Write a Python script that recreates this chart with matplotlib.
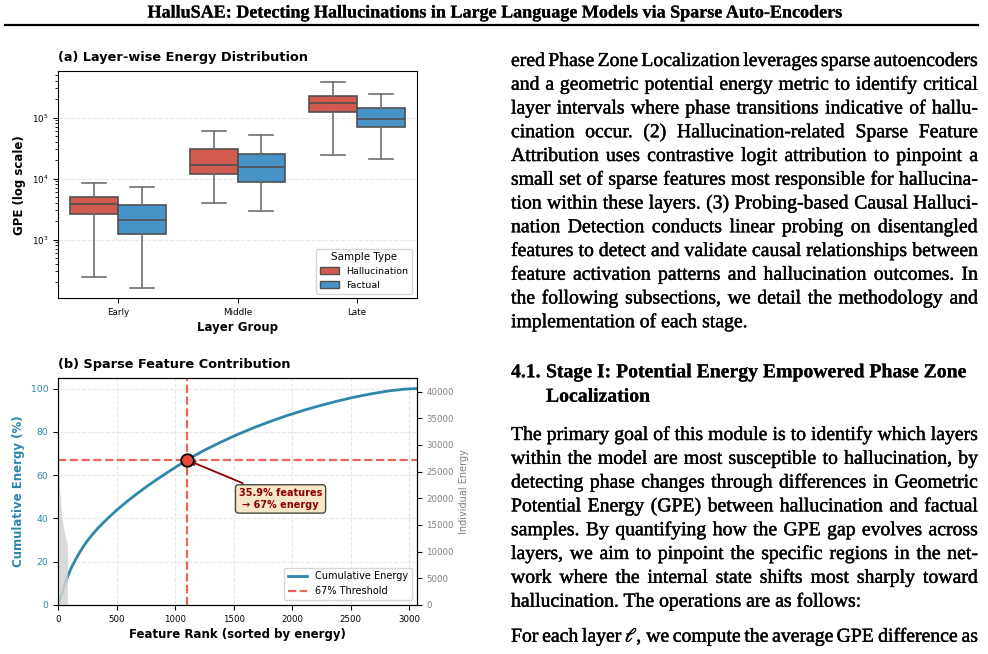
import matplotlib
matplotlib.use('Agg')
import matplotlib.pyplot as plt
import matplotlib.patheffects as pe
from matplotlib.patches import Patch
from matplotlib.lines import Line2D

# ---------------- data ----------------
# (a) box statistics
groups = ['Early', 'Middle', 'Late']
sample_types = ['Hallucination', 'Factual']
hall_whislo = [242, 3990, 24400]
hall_q1 = [2640, 11900, 122000]
hall_med = [3790, 17000, 176000]
hall_q3 = [4940, 31000, 229000]
hall_whishi = [8590, 61200, 389000]
fact_whislo = [163, 2910, 20800]
fact_q1 = [1220, 8710, 69500]
fact_med = [2100, 15500, 96300]
fact_q3 = [3700, 25700, 142000]
fact_whishi = [7400, 52000, 247000]

# (b) cumulative energy curve
rank_pts = [0, 20, 40, 60, 80, 114, 150, 185, 220, 256, 300, 341, 385, 426,
            480, 540, 610, 682, 750, 824, 895, 966, 1030, 1100, 1175, 1250,
            1320, 1392, 1460, 1534, 1676, 1818, 1960, 2102, 2244, 2386, 2528,
            2670, 2813, 2955, 3064]
cum_pts = [0.3, 3.6, 6.9, 10.1, 13.2, 17.5, 21.2, 24.5, 27.5, 30.2, 33.1,
           35.6, 38.0, 40.2, 42.9, 45.7, 48.8, 51.8, 54.5, 57.3, 59.9, 62.4,
           64.6, 67.0, 69.3, 71.5, 73.4, 75.3, 77.0, 78.8, 82.0, 84.9, 87.6,
           90.0, 92.2, 94.2, 96.0, 97.5, 98.8, 99.7, 100.0]
top_rank = [0, 2, 5, 12, 23, 35, 49, 63, 77]
top_energy = [32000, 28000, 25000, 22000, 18400, 15900, 14000, 12400, 11500]
n_features = 3064
thr_rank = 1100
thr_pct = 67

header = "HalluSAE: Detecting Hallucinations in Large Language Models via Sparse Auto-Encoders"
para1 = [
    "ered Phase Zone Localization leverages sparse autoencoders",
    "and a geometric potential energy metric to identify critical",
    "layer intervals where phase transitions indicative of hallu-",
    "cination occur.  (2) Hallucination-related Sparse Feature",
    "Attribution uses contrastive logit attribution to pinpoint a",
    "small set of sparse features most responsible for hallucina-",
    "tion within these layers. (3) Probing-based Causal Halluci-",
    "nation Detection conducts linear probing on disentangled",
    "features to detect and validate causal relationships between",
    "feature activation patterns and hallucination outcomes. In",
    "the following subsections, we detail the methodology and",
    "implementation of each stage.",
]
heading_num = "4.1."
heading = ["Stage I: Potential Energy Empowered Phase Zone", "Localization"]
para2 = [
    "The primary goal of this module is to identify which layers",
    "within the model are most susceptible to hallucination, by",
    "detecting phase changes through differences in Geometric",
    "Potential Energy (GPE) between hallucination and factual",
    "samples. By quantifying how the GPE gap evolves across",
    "layers, we aim to pinpoint the specific regions in the net-",
    "work where the internal state shifts most sharply toward",
    "hallucination. The operations are as follows:",
]
para3 = ["For each layer $\\ell$, we compute the average GPE difference as"]

# ---------------- figure ----------------
W, H = 988, 654
plt.rcParams['mathtext.fontset'] = 'stix'
fig = plt.figure(figsize=(W / 100, H / 100), dpi=100)

RED = '#d25a4e'
BLUE = '#4894c8'
EDGE = '#505050'

# (a) boxplot
ax1 = fig.add_axes([58.3 / W, 1 - 298.3 / H, 358.4 / W, 227.3 / H])
for lo, q1, md, q3, hi, col, off in [
        (hall_whislo, hall_q1, hall_med, hall_q3, hall_whishi, RED, -0.2),
        (fact_whislo, fact_q1, fact_med, fact_q3, fact_whishi, BLUE, 0.2)]:
    stats = [dict(whislo=lo[i], q1=q1[i], med=md[i], q3=q3[i], whishi=hi[i],
                  fliers=[]) for i in range(len(groups))]
    ax1.bxp(stats, positions=[i + off for i in range(len(groups))], widths=0.4,
            patch_artist=True, showfliers=False,
            boxprops=dict(facecolor=col, edgecolor=EDGE, linewidth=1.2),
            medianprops=dict(color=EDGE, linewidth=1.2),
            whiskerprops=dict(color='#707070', linewidth=1.2),
            capprops=dict(color='#707070', linewidth=1.2))
ax1.set_yscale('log')
ax1.set_ylim(109, 5.8e5)
ax1.set_xlim(-0.5, 2.5)
ax1.set_xticks(range(len(groups)))
ax1.set_xticklabels(groups, fontsize=6.3)
ax1.tick_params(axis='y', labelsize=6.3)
ax1.grid(axis='y', linestyle='--', alpha=0.3)
ax1.set_axisbelow(True)
ax1.set_xlabel('Layer Group', fontsize=8.5, fontweight='bold', labelpad=3)
ax1.set_ylabel('GPE (log scale)', fontsize=8.5, fontweight='bold')
ax1.set_title('(a) Layer-wise Energy Distribution', loc='left', fontsize=9.25,
              fontweight='bold', pad=7)
ax1.legend(handles=[Patch(facecolor=RED, edgecolor=EDGE, label=sample_types[0]),
                    Patch(facecolor=BLUE, edgecolor=EDGE, label=sample_types[1])],
           title='Sample Type', loc='lower right', fontsize=6.8, title_fontsize=7.5)

# (b) cumulative energy
CUM = '#2e86ab'
TH = '#e74c3c'
ax2 = fig.add_axes([58.3 / W, 1 - 605 / H, 358.4 / W, 227.3 / H])
ax2.plot(rank_pts, cum_pts, color=CUM, lw=2, label='Cumulative Energy')
ax2.axhline(thr_pct, color=TH, ls='--', lw=1.6, alpha=0.85, label='67% Threshold')
ax2.axvline(thr_rank, color=TH, ls='--', lw=1.6, alpha=0.85)
ax2.plot(thr_rank, thr_pct, 'o', color=TH, markersize=9, markeredgecolor='black',
         markeredgewidth=1.3, zorder=6)
ax2.annotate('%.1f%% features\n\u2192 %d%% energy' % (thr_rank / n_features * 100, thr_pct),
             xy=(thr_rank, thr_pct), xytext=(1900, 49), ha='center', va='center',
             fontsize=7, fontweight='bold', color='darkred',
             bbox=dict(boxstyle='round,pad=0.35', facecolor='wheat', alpha=0.7,
                       edgecolor='black'),
             arrowprops=dict(arrowstyle='->', color='darkred', lw=1.3))
ax2.set_xlim(0, n_features)
ax2.set_ylim(0, 105)
ax2.grid(True, linestyle='--', alpha=0.3)
ax2.tick_params(axis='y', labelcolor=CUM, labelsize=6.7)
ax2.tick_params(axis='x', labelsize=6.2)
ax2.set_xlabel('Feature Rank (sorted by energy)', fontsize=8.5, fontweight='bold', labelpad=3)
ax2.set_ylabel('Cumulative Energy (%)', fontsize=8.5, fontweight='bold', color=CUM)
ax2.set_title('(b) Sparse Feature Contribution', loc='left', fontsize=9.25,
              fontweight='bold', pad=7)
ax2.legend(loc='lower right', fontsize=7)

ax3 = ax2.twinx()
ax3.fill_between(top_rank, top_energy, color='lightgray', alpha=0.85, lw=0)
ax3.set_ylim(0, 42600)
ax3.set_yticks(range(0, 40001, 5000))
ax3.tick_params(axis='y', labelcolor='gray', labelsize=6.2)
ax3.set_ylabel('Individual Energy', fontsize=7, color='gray')

# ---------------- page text ----------------
serif = 'Liberation Serif'
ink = {'normal': [pe.withStroke(linewidth=0.3, foreground='black')],
       'bold': [pe.withStroke(linewidth=0.12, foreground='black')]}
fig.text(0.5, 1 - 13 / H, header, ha='center', va='center', family=serif,
         fontweight='bold', fontsize=13, path_effects=ink['bold'])
fig.add_artist(Line2D([5 / W, 978 / W], [1 - 25 / H] * 2, color='black', lw=1.6))

BODY = 14.2
X0, X1 = 511, 978
renderer = fig.canvas.get_renderer()
probe = fig.text(0, 0, '', family=serif, fontsize=BODY)


def width(s, weight='normal'):
    probe.set_text(s)
    probe.set_fontweight(weight)
    return probe.get_window_extent(renderer).width


def put_line(line, x_left, y_base, justify=True, weight='normal'):
    if not justify:
        fig.text(x_left / W, 1 - y_base / H, line, va='baseline', ha='left',
                 family=serif, fontsize=BODY, fontweight=weight,
                 path_effects=ink[weight])
        return
    words = line.split()
    natural = width(' '.join(words), weight)
    extra = (X1 - x_left - natural) / (len(words) - 1)
    for i, w in enumerate(words):
        start = width(' '.join(words[:i + 1]), weight) - width(w, weight)
        fig.text((x_left + start + i * extra) / W, 1 - y_base / H, w,
                 va='baseline', ha='left', family=serif, fontsize=BODY,
                 fontweight=weight, path_effects=ink[weight])


for i, line in enumerate(para1):
    put_line(line, X0, 66 + i * 23.75, justify=i < len(para1) - 1)

put_line(heading_num, X0, 377.3, justify=False, weight='bold')
put_line(heading[0], 546, 377.3, justify=False, weight='bold')
put_line(heading[1], 546, 401.7, justify=False, weight='bold')

for i, line in enumerate(para2):
    put_line(line, X0, 440 + i * 23.8, justify=i < len(para2) - 1)
put_line(para3[0], X0, 641.7, justify=True)
probe.remove()

fig.savefig('out.png', dpi=100)
